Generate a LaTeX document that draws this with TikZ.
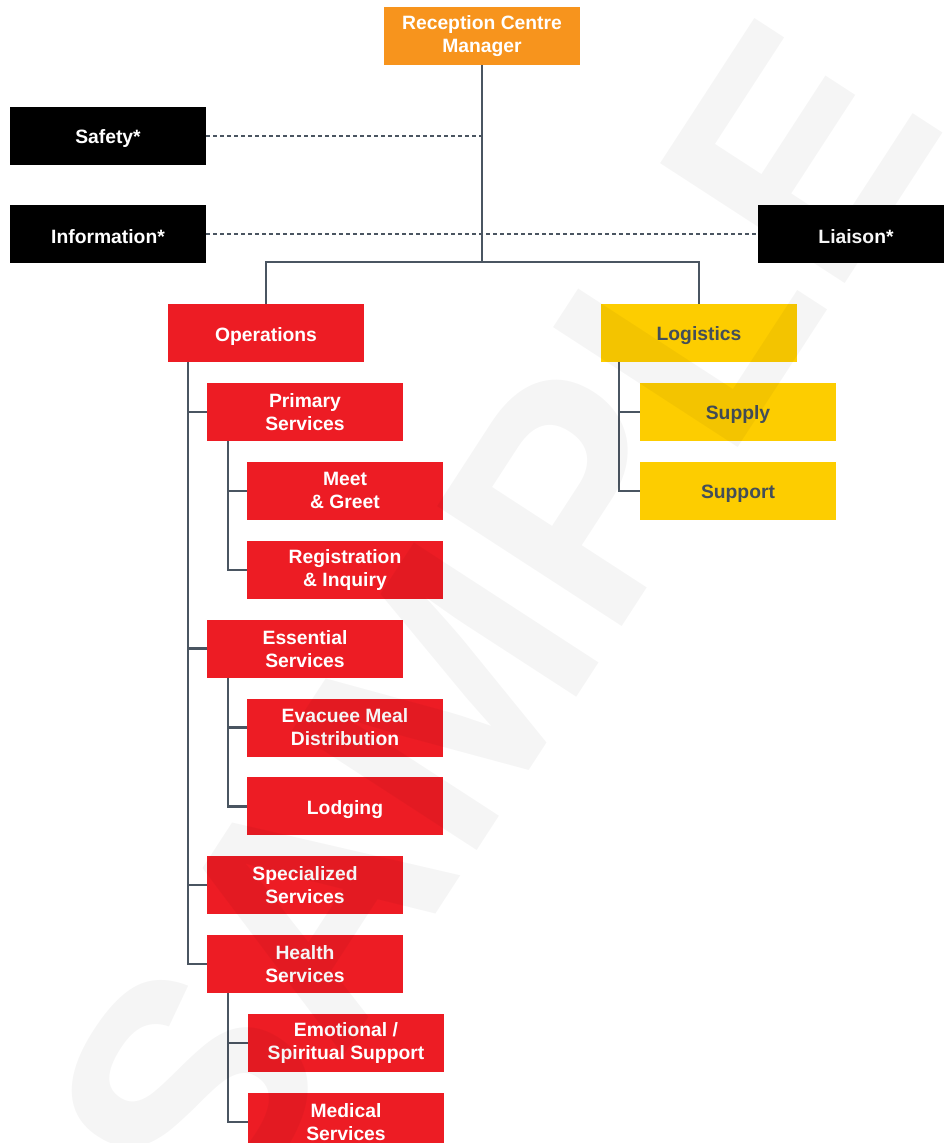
\documentclass[tikz,border=0pt]{standalone}
\usepackage{fontspec}
\setmainfont{Liberation Sans}
\usetikzlibrary{positioning}
\definecolor{mgr}{HTML}{F7941D}
\definecolor{ops}{HTML}{ED1C24}
\definecolor{logi}{HTML}{FDCD00}
\definecolor{link}{HTML}{4A5561}
\definecolor{logtxt}{HTML}{434E59}

\begin{document}
\begin{tikzpicture}[
    x = 1pt, y = -1pt,
    node distance = 20.5pt and 0pt,
    box/.style     = {minimum width=196pt, minimum height=58pt, inner sep=0pt, align=center,
                      font=\fontsize{19.3}{23}\selectfont\bfseries, text=white,
                      execute at begin node={\rule{0pt}{20pt}}},
    mgrbox/.style  = {box, fill=mgr},
    staffbox/.style= {box, fill=black},
    opsbox/.style  = {box, fill=ops},
    logbox/.style  = {box, fill=logi, text=logtxt},
    tree/.style    = {draw=link, line width=2.3pt},
    staffline/.style = {draw=link, line width=2.3pt, dash pattern=on 4pt off 3pt},
]
\useasboundingbox (0,0) rectangle (943,1143);
\fill[white] (0,0) rectangle (943,1143);

% --------------------------------------------- command -------------------------------------------
\node[mgrbox]   (mgr)     at (482,36)  {Reception Centre\\Manager};
\node[staffbox] (safety)  at (108,136) {Safety*};
\node[staffbox] (info)    at (108,234) {Information*};
\node[staffbox] (liaison) at (856,234) {Liaison*};
\coordinate (hub) at (482,262);

% --------------------------------------------- sections ------------------------------------------
\node[opsbox] (ops)  at (266,333) {Operations};
\node[logbox] (logi) at (699,333) {Logistics};

% -------------------------------------------- operations -----------------------------------------
\node[opsbox, below=of ops, xshift=39pt]       (primary) {Primary\\Services};
\node[opsbox, below=of primary, xshift=40pt]   (meet)    {Meet\\\& Greet};
\node[opsbox, below=of meet]                   (reg)     {Registration\\\& Inquiry};
\node[opsbox, below=of reg, xshift=-40pt]      (ess)     {Essential\\Services};
\node[opsbox, below=of ess, xshift=40pt]       (meal)    {Evacuee Meal\\Distribution};
\node[opsbox, below=of meal]                   (lodg)    {Lodging};
\node[opsbox, below=of lodg, xshift=-40pt]     (spec)    {Specialized\\Services};
\node[opsbox, below=of spec]                   (health)  {Health\\Services};
\node[opsbox, below=of health, xshift=41pt]    (emo)     {Emotional /\\Spiritual Support};
\node[opsbox, below=of emo]                    (med)     {Medical\\Services};

% --------------------------------------------- logistics -----------------------------------------
\node[logbox, below=of logi, xshift=39pt]   (supply)  {Supply};
\node[logbox, below=of supply]              (support) {Support};

% ---------------------------------------------- links --------------------------------------------
\draw[tree] (mgr) -- (hub);
\draw[tree] (ops.north) |- (hub) -| (logi.north);
\draw[staffline] (safety.east) -- (safety.east -| hub);
\draw[staffline] (info.east) -- (liaison.west);

\foreach \n in {primary, ess, spec, health}
    \draw[tree] ([xshift=20pt]ops.south west) |- (\n.west);
\foreach \n in {meet, reg}
    \draw[tree] ([xshift=21pt]primary.south west) |- (\n.west);
\foreach \n in {meal, lodg}
    \draw[tree] ([xshift=21pt]ess.south west) |- (\n.west);
\foreach \n in {emo, med}
    \draw[tree] ([xshift=21pt]health.south west) |- (\n.west);
\foreach \n in {supply, support}
    \draw[tree] ([xshift=18pt]logi.south west) |- (\n.west);

% --------------------------------------------- watermark -----------------------------------------
\node[rotate=57, opacity=0.04, text=black, font=\fontsize{320}{320}\selectfont\bfseries]
    (wm) at (494,622) {SAMPLE};

\end{tikzpicture}
\end{document}
